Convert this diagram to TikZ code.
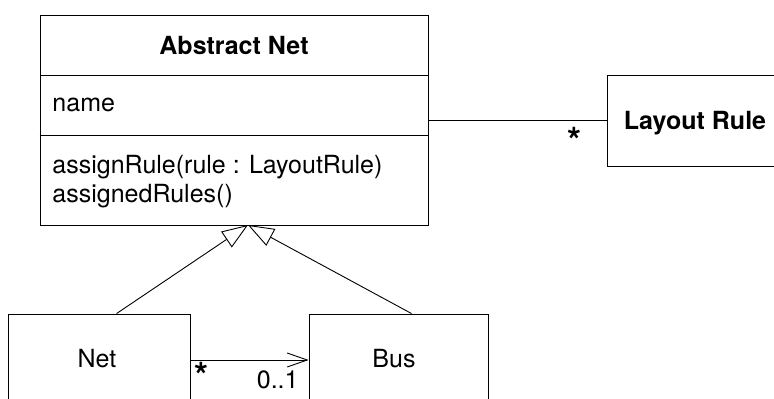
\documentclass[tikz,border=0pt]{standalone}
\usepackage{fontspec}
\setmainfont{TeX Gyre Heros}
\usetikzlibrary{arrows.meta}
\begin{document}
\begin{tikzpicture}[x=1pt,y=-1pt,
  line width=0.9pt,
  box/.style={draw, rectangle, inner sep=0pt},
  txt/.style={inner sep=0pt, font=\fontsize{25}{29}\selectfont},
  btxt/.style={inner sep=0pt, font=\fontsize{25}{29}\selectfont\bfseries},
  mult/.style={inner sep=0pt, font=\fontsize{36}{40}\selectfont\bfseries},
  gen/.style={-{Triangle[open, length=26pt, width=19pt, line width=0.9pt]}},
  nav/.style={-{Straight Barb[length=20pt, width=14pt, line width=0.9pt]}}]
\clip (0,0) rectangle (774,399);
\fill[white] (0,0) rectangle (774,399);
% Abstract Net
\node[box, minimum width=388pt, minimum height=210pt] (anet) at (234,120) {};
\draw (anet.west |- 0,75) coordinate (d1l) -- (anet.east |- 0,75) coordinate (d1r);
\draw (anet.west |- 0,135) coordinate (d2l) -- (anet.east |- 0,135) coordinate (d2r);
\node[btxt, anchor=base] (anett) at (234,54) {Abstract Net};
\node[txt, anchor=base west] (attr) at (52,111) {name};
\node[txt, anchor=base west] (op1) at (52,173) {assignRule(rule : LayoutRule)};
\node[txt, anchor=base west] (op2) at (52,202) {assignedRules()};
% Layout Rule
\node[box, minimum width=176pt, minimum height=91pt] (lrule) at (695,120.5) {};
\node[btxt, anchor=base] (lrulet) at (695,129) {Layout Rule};
% Net and Bus
\node[box, minimum width=182pt, minimum height=92pt] (net) at (99,360) {};
\node[txt, anchor=base] (nett) at (97,367) {Net};
\node[box, minimum width=179pt, minimum height=92pt] (bus) at (398.5,360) {};
\node[txt, anchor=base] (bust) at (394,367) {Bus};
% connectors
\coordinate (tip) at (248,225);
\draw[gen] ([xshift=109pt]net.north west) -- (tip);
\draw[gen] ([xshift=103pt]bus.north west) -- (tip);
\draw (anet.east |- 0,120) -- (lrule.west |- 0,120);
\draw[nav] (net.east) -- (bus.west);
% multiplicities
\node[mult, anchor=base] (m1) at (574,153) {*};
\node[mult, anchor=base] (m2) at (201,388) {*};
\node[txt, anchor=base east] (m3) at (299,388) {0..1};
\end{tikzpicture}
\end{document}
